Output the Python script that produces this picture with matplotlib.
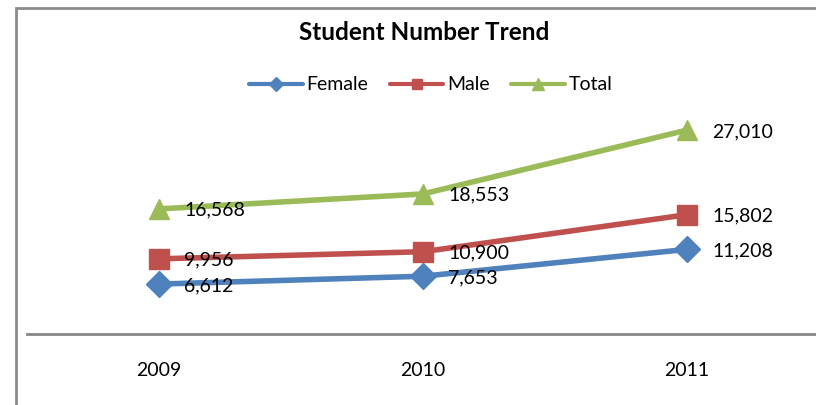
import matplotlib as mpl
mpl.use('Agg')
import matplotlib.pyplot as plt
from matplotlib.patches import Rectangle

years = ["2009", "2010", "2011"]
female = [6612, 7653, 11208]
male = [9956, 10900, 15802]
total = [16568, 18553, 27010]

W, H = 816, 405
plt.rcParams['font.family'] = ['Lato', 'DejaVu Sans']

fig = plt.figure(figsize=(W / 100, H / 100), dpi=100)

# chart frame (cut off at right and bottom)
fig.patches.append(Rectangle((16 / W, -0.1), 1.2, 1.1 - 8 / H, transform=fig.transFigure,
                             fill=False, edgecolor='#8c8c8c', linewidth=2))

ax = fig.add_axes([27 / W, (H - 334) / H, 792 / W, 226.5 / H])
ax.set_xlim(-0.5, 2.5)
ax.set_ylim(0, 30000)

series = [("Female", female, '#4F81BD', 'D', 13),
          ("Male", male, '#C0504D', 's', 14),
          ("Total", total, '#9BBB59', '^', 15)]
x = range(len(years))
for name, vals, col, mk, ms in series:
    ax.plot(x, vals, color=col, linewidth=4, marker=mk, markersize=ms, label=name,
            clip_on=False, solid_capstyle='round')
    for xi, v in zip(x, vals):
        ax.annotate(f"{v:,}", (xi, v), xytext=(18, -1), textcoords='offset points',
                    ha='left', va='center', fontsize=14, color='black')

for s in ['top', 'left', 'right']:
    ax.spines[s].set_visible(False)
ax.spines['bottom'].set_color('#868686')
ax.spines['bottom'].set_linewidth(2)
ax.set_yticks([])
ax.set_xticks(list(x))
ax.set_xticklabels(years, fontsize=14)
ax.tick_params(axis='x', length=0, pad=20)

fig.text(424 / W, 1 - 32 / H, "Student Number Trend", ha='center', va='center',
         fontsize=17.5, fontweight='bold')

handles, labels = ax.get_legend_handles_labels()
leg = fig.legend(handles, labels, loc='center', bbox_to_anchor=(431 / W, 1 - 85 / H), ncol=3,
                 frameon=False, fontsize=14, handlelength=2.75, handletextpad=0.2,
                 columnspacing=1.1, markerscale=0.55)
for line in leg.get_lines():
    line.set_linewidth(3)

fig.savefig('out.png', dpi=100)
